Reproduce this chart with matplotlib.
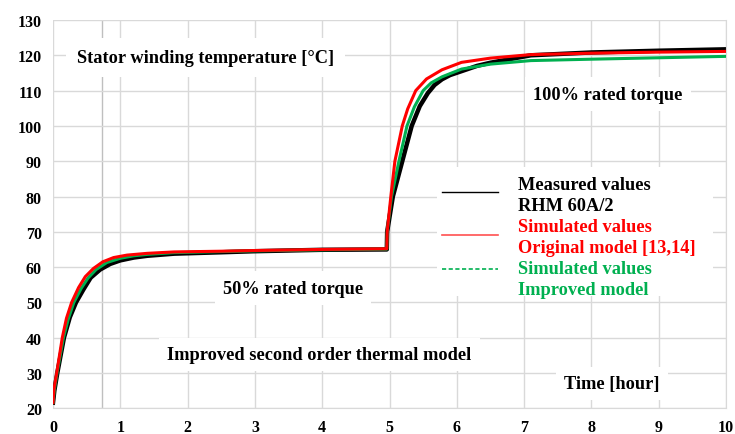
import matplotlib
matplotlib.use("Agg")
import matplotlib.pyplot as plt
from matplotlib.lines import Line2D
from matplotlib.patches import Rectangle

# ---- data ----
measured_t = [0, 0.02, 0.064, 0.163, 0.25, 0.342, 0.45, 0.56, 0.70, 0.85, 1.0, 1.2, 1.4, 1.8,
              2.5, 3.0, 4.0, 4.96, 4.965, 5.05, 5.19, 5.33, 5.45, 5.57, 5.67, 5.78, 5.9, 6.07,
              6.3, 6.5, 7.1, 8.0, 9.0, 10.0]
measured = [21.6, 25.0, 30.0, 40.0, 45.8, 50.0, 53.6, 57.0, 59.3, 60.9, 61.9, 62.7, 63.2, 63.8,
            64.2, 64.5, 64.9, 65.0, 70.0, 80.0, 90.0, 100.0, 105.6, 109.3, 111.6, 113.2, 114.4, 115.5,
            117.0, 117.9, 120.0, 120.8, 121.3, 121.7]

original_t = [0, 0.015, 0.055, 0.138, 0.20, 0.277, 0.38, 0.48, 0.60, 0.74, 0.9, 1.1, 1.4, 1.8,
              2.5, 3.0, 4.0, 4.96, 4.965, 5.02, 5.08, 5.19, 5.27, 5.39, 5.55, 5.78, 6.07, 6.5,
              7.1, 8.0, 9.0, 10.0]
original = [21.6, 25.5, 30.0, 40.0, 45.5, 50.0, 54.2, 57.3, 59.6, 61.5, 62.7, 63.4, 63.9, 64.3,
            64.5, 64.7, 65.0, 65.2, 70.0, 80.0, 90.0, 100.0, 104.8, 110.0, 113.3, 115.9, 118.0, 119.2,
            120.2, 120.6, 120.9, 121.1]

improved_t = [0, 0.02, 0.06, 0.155, 0.23, 0.31, 0.42, 0.52, 0.64, 0.8, 1.0, 1.2, 1.4, 1.8,
              2.5, 3.0, 4.0, 4.96, 4.965, 5.03, 5.14, 5.26, 5.37, 5.50, 5.62, 5.78, 6.07, 6.5,
              7.1, 8.0, 9.0, 10.0]
improved = [21.6, 25.2, 30.0, 40.0, 45.5, 50.0, 54.0, 56.9, 59.3, 61.3, 62.5, 63.2, 63.6, 64.1,
            64.4, 64.6, 64.9, 65.1, 70.0, 80.0, 90.0, 100.0, 105.4, 110.0, 112.2, 113.9, 116.1, 117.5,
            118.5, 118.9, 119.3, 119.7]

x_ticks = [0, 1, 2, 3, 4, 5, 6, 7, 8, 9, 10]
y_ticks = [20, 30, 40, 50, 60, 70, 80, 90, 100, 110, 120, 130]
marker_time = 0.73

serif = ["Liberation Serif", "DejaVu Serif"]
RED = "#FF0000"
GREEN = "#00B050"
GRID = "#D9D9D9"

fig = plt.figure(figsize=(7.35, 4.35), dpi=100)
ax = fig.add_axes([53/735, 1 - 409.3/435, (726-53)/735, (409.3-21)/435])
ax.set_xlim(0, 10)
ax.set_ylim(20, 130)
ax.set_xticks(x_ticks)
ax.set_yticks(y_ticks)
ax.grid(True, color=GRID, lw=1.0, zorder=0)
ax.set_axisbelow(True)
for s in ["top", "left"]:
    ax.spines[s].set_visible(False)
ax.spines["bottom"].set_color(GRID)
ax.spines["right"].set_color(GRID)
ax.tick_params(length=0, pad=8)
for lab in ax.get_xticklabels() + ax.get_yticklabels():
    lab.set_family(serif)
    lab.set_fontweight("bold")
    lab.set_fontsize(11.5)

ax.axvline(marker_time, color="#BFBFBF", lw=1.0, zorder=0.5)

FS = 13.2

def label(x, y, s, color="black", size=FS, pad=0.45):
    ax.text(x, y, s, family=serif, fontweight="bold", fontsize=size, color=color,
            ha="left", va="center", zorder=1,
            bbox=dict(boxstyle=f"square,pad={pad}", facecolor="white", edgecolor="none"))

tx = lambda px: (px - 53) / 67.3
ty = lambda py: 130 - (py - 21) / 3.527

label(tx(77), ty(58), "Stator winding temperature [°C]", pad=0.6)
label(tx(533), ty(95), "100% rated torque")
label(tx(223), ty(289), "50% rated torque")
label(tx(167), ty(355), "Improved second order thermal model")
label(tx(564), ty(384), "Time [hour]")

# curves
ax.plot(measured_t, measured, color="black", lw=3.2, zorder=2, solid_joinstyle="round")
ax.plot(improved_t, improved, color=GREEN, lw=2.2, zorder=3, solid_joinstyle="round")
ax.plot(original_t, original, color=RED, lw=2.2, zorder=4, solid_joinstyle="round")

# legend (manual)
ax.add_patch(Rectangle((tx(437), ty(297)), tx(713) - tx(437), ty(168) - ty(297),
                       facecolor="white", edgecolor="none", zorder=1))
lx0, lx1, txl = tx(442), tx(498), tx(518)
ax.add_line(Line2D([lx0, lx1], [ty(193), ty(193)], color="black", lw=1.0, zorder=5))
ax.add_line(Line2D([lx0, lx1], [ty(236), ty(236)], color="#FF5050", lw=1.2, zorder=5))
ax.add_line(Line2D([lx0, lx1], [ty(270), ty(270)], color=GREEN, lw=1.2, ls=(0, (2.5, 1.5)), zorder=5))
rows = [(185, "Measured values", "black"), (206, "RHM 60A/2", "black"),
        (227, "Simulated values", RED), (248, "Original model [13,14]", RED),
        (269, "Simulated values", GREEN), (290, "Improved model", GREEN)]
for py, s, c in rows:
    ax.text(txl, ty(py), s, family=serif, fontweight="bold", fontsize=FS, color=c,
            ha="left", va="center", zorder=6)

fig.savefig("out.png", dpi=100, facecolor="white")
